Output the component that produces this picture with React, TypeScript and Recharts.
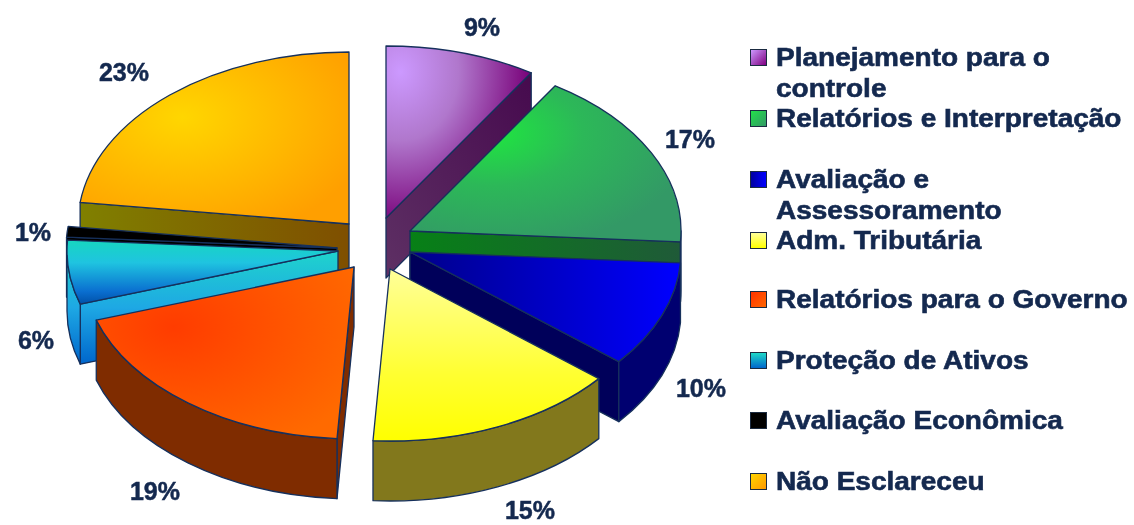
import { Legend, Pie, PieChart } from "recharts";

const names = [
  "Planejamento para o\ncontrole",
  "Relatórios e Interpretação",
  "Avaliação e\nAssessoramento",
  "Adm. Tributária",
  "Relatórios para o Governo",
  "Proteção de Ativos",
  "Avaliação Econômica",
  "Não Esclareceu",
];
const shares = [9, 17, 10, 15, 19, 6, 1, 23];

const pieData = names.map((name, i) => ({ name, value: shares[i] }));

// layout and look, not data
const CX = 380;
const CY = 240;
const RX = 271;
const RY = 172;
const DEPTH = 60;
const INK = "#14294f";
const EDGE = "#16305c";
const FONT = "'Liberation Sans', Arial, sans-serif";
const offsets = [[6, -22], [30, -9], [30, 12], [10, 29], [-26, 27], [-42, 11], [-43, 8], [-31, -16]];
const paintOrder = [7, 6, 5, 4, 0, 1, 2, 3];
const labelAt = [[482, 27], [690, 139], [701, 388], [530, 510], [155, 491], [36, 340], [33, 232], [124, 72]];
const legendTop = [42, 103, 164, 225, 284, 345, 405, 466];
const swatches = [
  "linear-gradient(135deg,#cc99ff,#800080)",
  "linear-gradient(135deg,#22e04a,#339966)",
  "linear-gradient(90deg,#0000a0,#0000ff)",
  "linear-gradient(180deg,#ffff99,#ffff00)",
  "linear-gradient(135deg,#ff3300,#ff6600)",
  "linear-gradient(180deg,#1fd8c8,#0066cc)",
  "#000",
  "linear-gradient(135deg,#ffd500,#ff9900)",
];
const wallFills = ["url(#wPurple)", "url(#wGreen)", "#000070", "#82781c", "#7f2c00", "url(#wCyan)", "#000", "url(#wGold)"];

const rad = (deg: number) => (deg * Math.PI) / 180;

function Slice3D(props: any) {
  const i = props.index;
  const ax = CX + offsets[i][0];
  const ay = CY + offsets[i][1];
  const t0 = 90 - props.startAngle;
  const t1 = 90 - props.endAngle;
  const p = (t: number, dz = 0) => `${ax + RX * Math.sin(rad(t))} ${ay - RY * Math.cos(rad(t)) + dz}`;
  const wall = wallFills[i];
  const edgeWall = (t: number) => `M${ax} ${ay}L${p(t)}L${p(t, DEPTH)}L${ax} ${ay + DEPTH}Z`;
  const a = Math.max(t0, 90);
  const b = Math.min(t1, 270);
  const sin0 = Math.sin(rad(t0));
  const sin1 = Math.sin(rad(t1));
  return (
    <g stroke={EDGE} strokeWidth={1.3} strokeLinejoin="round">
      {sin0 < -0.001 && <path d={edgeWall(t0)} fill={wall} />}
      {sin1 > 0.001 && <path d={edgeWall(t1)} fill={i === 2 ? "#00005a" : wall} />}
      {a < b && (
        <path
          d={`M${p(a)}A${RX} ${RY} 0 0 1 ${p(b)}L${p(b, DEPTH)}A${RX} ${RY} 0 0 0 ${p(a, DEPTH)}Z`}
          fill={wall}
        />
      )}
      <path
        d={`M${ax} ${ay}L${p(t0)}A${RX} ${RY} 0 ${t1 - t0 > 180 ? 1 : 0} 1 ${p(t1)}Z`}
        fill={`url(#top${i})`}
      />
    </g>
  );
}

function PctLabel(props: any, only: number) {
  if (props.index !== only) return <g />;
  const [x, y] = labelAt[only];
  return (
    <text
      x={x}
      y={y}
      fill={INK}
      fontFamily={FONT}
      fontSize={25}
      fontWeight={700}
      textAnchor="middle"
      dominantBaseline="central"
      stroke={INK}
      strokeWidth={0.5}
    >
      {props.value}%
    </text>
  );
}

function SideLegend() {
  return (
    <div style={{ position: "relative", width: 384, height: 525, fontFamily: FONT }}>
      {names.map((name, i) => (
        <div key={name} style={{ position: "absolute", left: 0, top: legendTop[i], display: "flex", color: INK }}>
          <span
            style={{
              width: 15,
              height: 15,
              marginTop: 7,
              marginRight: 9,
              border: "1px solid #1a2a40",
              background: swatches[i],
              flex: "none",
            }}
          />
          <span
            style={{
              fontSize: 25,
              fontWeight: 700,
              lineHeight: "30.5px",
              whiteSpace: "pre",
              transform: "scaleX(1.12)",
              transformOrigin: "left center",
              WebkitTextStroke: "0.6px #14294f",
            }}
          >
            {name}
          </span>
        </div>
      ))}
    </div>
  );
}

export default function App() {
  return (
    <div style={{ position: "absolute", left: 0, top: 0, width: 1134, height: 525, background: "#fff", filter: "blur(0.5px)" }}>
      <PieChart width={1134} height={525} margin={{ top: 0, right: 0, bottom: 0, left: 0 }}>
        <defs>
          <radialGradient id="top0" cx="0.1" cy="0.15" r="1">
            <stop offset="0" stopColor="#cc99ff" />
            <stop offset="0.4" stopColor="#b077cc" />
            <stop offset="0.9" stopColor="#780078" />
          </radialGradient>
          <radialGradient id="top1" cx="0.3" cy="0.3" r="0.75">
            <stop offset="0" stopColor="#1fe640" />
            <stop offset="0.45" stopColor="#2cb858" />
            <stop offset="1" stopColor="#339966" />
          </radialGradient>
          <linearGradient id="top2" x1="0" y1="0" x2="1" y2="0">
            <stop offset="0" stopColor="#00008a" />
            <stop offset="1" stopColor="#0000ff" />
          </linearGradient>
          <linearGradient id="top3" x1="0" y1="0" x2="0" y2="1">
            <stop offset="0" stopColor="#ffff99" />
            <stop offset="0.6" stopColor="#ffff33" />
            <stop offset="1" stopColor="#ffff00" />
          </linearGradient>
          <radialGradient id="top4" cx="0.3" cy="0.35" r="0.8">
            <stop offset="0" stopColor="#ff3c00" />
            <stop offset="1" stopColor="#ff6a00" />
          </radialGradient>
          <linearGradient id="top5" x1="0" y1="0" x2="0" y2="1">
            <stop offset="0" stopColor="#17d6c0" />
            <stop offset="0.35" stopColor="#1fc4e0" />
            <stop offset="0.8" stopColor="#0a6fd0" />
            <stop offset="1" stopColor="#0050a8" />
          </linearGradient>
          <linearGradient id="top6" x1="0" y1="0" x2="1" y2="0">
            <stop offset="0" stopColor="#000" />
            <stop offset="1" stopColor="#000" />
          </linearGradient>
          <radialGradient id="top7" cx="0.38" cy="0.38" r="0.72">
            <stop offset="0" stopColor="#ffd600" />
            <stop offset="1" stopColor="#ff9f00" />
          </radialGradient>
          <linearGradient id="wPurple" x1="0" y1="1" x2="1" y2="0">
            <stop offset="0" stopColor="#5e3064" />
            <stop offset="1" stopColor="#460a4e" />
          </linearGradient>
          <linearGradient id="wGreen" x1="0" y1="0" x2="1" y2="0">
            <stop offset="0" stopColor="#078016" />
            <stop offset="1" stopColor="#1f5a38" />
          </linearGradient>
          <linearGradient id="wCyan" x1="0" y1="0" x2="0" y2="1">
            <stop offset="0" stopColor="#1fd4cc" />
            <stop offset="0.5" stopColor="#1ea8e4" />
            <stop offset="1" stopColor="#0066cc" />
          </linearGradient>
          <linearGradient id="wGold" x1="0" y1="0" x2="1" y2="0">
            <stop offset="0" stopColor="#808000" />
            <stop offset="1" stopColor="#7f4f00" />
          </linearGradient>
        </defs>
        {paintOrder.map((only) => (
          <Pie
            key={only}
            data={pieData}
            dataKey="value"
            nameKey="name"
            cx={CX}
            cy={CY}
            outerRadius={RX}
            startAngle={90}
            endAngle={-270}
            isAnimationActive={false}
            labelLine={false}
            label={(p: any) => PctLabel(p, only)}
            shape={(p: any) => (p.index === only ? <Slice3D {...p} /> : <g />)}
          />
        ))}
        <Legend
          layout="vertical"
          align="right"
          verticalAlign="top"
          content={<SideLegend />}
          wrapperStyle={{ left: 750, top: 0, width: 384, height: 525 }}
        />
      </PieChart>
    </div>
  );
}
